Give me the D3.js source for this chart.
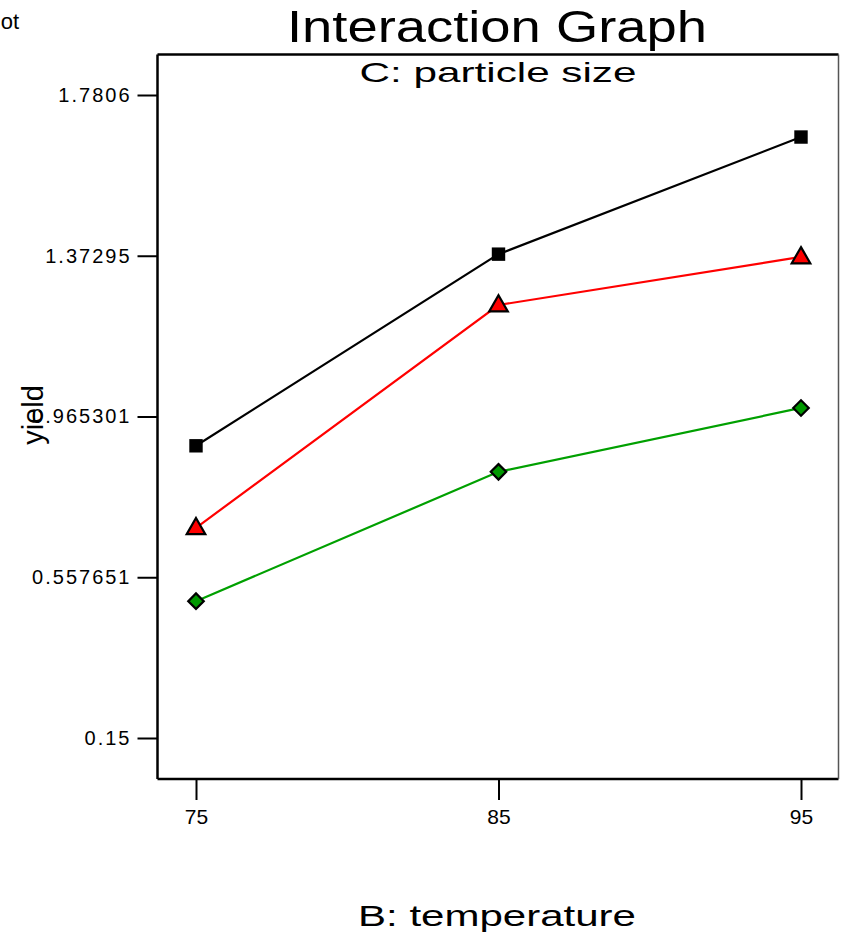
<!DOCTYPE html>
<html><head><meta charset="utf-8">
<script src="https://cdn.jsdelivr.net/npm/d3@7"></script>
<style>body{margin:0;background:#fff}svg{display:block}text{font-family:Arial,"Liberation Sans",sans-serif}</style>
</head><body>
<svg id="c" width="841" height="934"></svg>
<script>
const categories = [75, 85, 95];
const yTickLabels = ["0.15", "0.557651", "0.965301", "1.37295", "1.7806"];
const seriesBlack = [0.891, 1.377, 1.674];
const seriesRed = [0.683, 1.248, 1.370];
const seriesGreen = [0.497, 0.825, 0.987];
const seriesNames = ["C-", "C0", "C+"];

const svg = d3.select("#c");
const L = 157.5, R = 838.5, T = 54.5, B = 779;
const x = d3.scaleLinear().domain([75, 95]).range([196, 801]);
const y = d3.scaleLinear().domain([0.15, 1.7806]).range([738, 95]);

// clipped plot label (clipped at the page edge as in the original)
svg.append("text").attr("x", 19).attr("y", 29).attr("text-anchor", "end")
  .attr("font-size", 22).text("Plot");

// frame
svg.append("line").attr("x1", L).attr("x2", R).attr("y1", T).attr("y2", T).attr("stroke", "#000").attr("stroke-width", 2.5);
svg.append("line").attr("x1", L).attr("x2", L).attr("y1", T).attr("y2", B).attr("stroke", "#000").attr("stroke-width", 2.5);
svg.append("line").attr("x1", L).attr("x2", R).attr("y1", B).attr("y2", B).attr("stroke", "#000").attr("stroke-width", 2.5);
svg.append("line").attr("x1", R).attr("x2", R).attr("y1", T).attr("y2", B).attr("stroke", "#555").attr("stroke-width", 1.5);

// y axis
const yVals = yTickLabels.map(Number);
const yAxis = d3.axisLeft(y).tickValues(yVals).tickSize(20).tickPadding(6)
  .tickFormat((d, i) => yTickLabels[i]);
const gy = svg.append("g").attr("transform", `translate(${L},0)`).call(yAxis);
gy.select(".domain").remove();
gy.selectAll(".tick line").attr("stroke", "#000").attr("stroke-width", 2);
gy.selectAll(".tick text").attr("font-size", 20).attr("letter-spacing", "2px")
  .attr("fill", "#000").style("font-family", "Arial, 'Liberation Sans', sans-serif");

// x axis
const xAxis = d3.axisBottom(x).tickValues(categories).tickSize(21).tickPadding(9).tickFormat(d3.format("d"));
const gx = svg.append("g").attr("transform", `translate(0,${B})`).call(xAxis);
gx.select(".domain").remove();
gx.selectAll(".tick line").attr("stroke", "#000").attr("stroke-width", 2);
gx.selectAll(".tick text").attr("font-size", 21).attr("fill", "#000")
  .style("font-family", "Arial, 'Liberation Sans', sans-serif");

// titles
svg.append("text").attr("x", 497).attr("y", 42).attr("text-anchor", "middle")
  .attr("font-size", 44).attr("textLength", 420).attr("lengthAdjust", "spacingAndGlyphs").text("Interaction Graph");
svg.append("text").attr("x", 498).attr("y", 82).attr("text-anchor", "middle")
  .attr("font-size", 28).attr("textLength", 277).attr("lengthAdjust", "spacingAndGlyphs").text("C: particle size");
svg.append("text").attr("x", 497).attr("y", 926).attr("text-anchor", "middle")
  .attr("font-size", 29).attr("textLength", 278).attr("lengthAdjust", "spacingAndGlyphs").text("B: temperature");
svg.append("text").attr("transform", "translate(43,415) rotate(-90)").attr("text-anchor", "middle")
  .attr("font-size", 29).text("yield");

// series
const series = [
  {name: seriesNames[0], vals: seriesBlack, color: "#000000", fill: "#000000", shape: d3.symbolSquare, size: 180, rot: 0, dy: 0},
  {name: seriesNames[1], vals: seriesRed, color: "#ff0000", fill: "#ff0000", shape: d3.symbolTriangle, size: 150, rot: 0, dy: 1},
  {name: seriesNames[2], vals: seriesGreen, color: "#00a000", fill: "#009900", shape: d3.symbolSquare, size: 120, rot: 45, dy: 0}
];
const line = d3.line().x((d, i) => x(categories[i])).y(d => y(d));
series.forEach(s => {
  svg.append("path").datum(s.vals).attr("d", line).attr("fill", "none")
    .attr("stroke", s.color).attr("stroke-width", 2.2);
});
series.forEach((s, si) => {
  svg.selectAll(null).data(s.vals).enter().append("path")
    .attr("transform", (d, i) => `translate(${x(categories[i])},${y(d) + s.dy}) rotate(${s.rot})`)
    .attr("d", d3.symbol().type(s.shape).size(s.size))
    .attr("fill", s.fill).attr("stroke", "#000").attr("stroke-width", si === 0 ? 0 : 2.2);
});
</script>
</body></html>
